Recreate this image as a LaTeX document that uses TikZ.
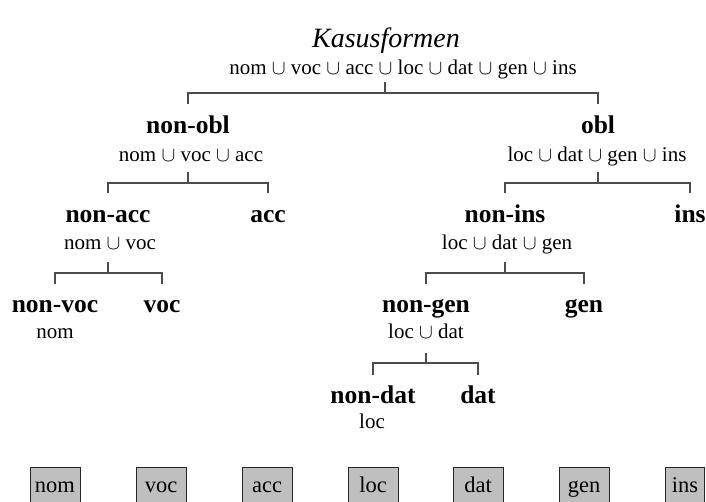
\documentclass[tikz,border=0pt]{standalone}
\usepackage{fontspec}
\setmainfont{Liberation Serif}
\usetikzlibrary{calc}
\begin{document}
\begin{tikzpicture}[x=1bp,y=-1bp,
  tree/.style={draw=black!70, line width=1.1bp},
  heading/.style={font=\fontsize{28bp}{33bp}\selectfont\itshape, inner sep=0pt, text height=20bp, text depth=0pt},
  cat/.style={font=\fontsize{25.5bp}{30bp}\selectfont\bfseries, inner sep=0pt, text height=17bp, text depth=0pt, outer ysep=12bp},
  forms/.style={font=\fontsize{21bp}{25bp}\selectfont, inner sep=0pt, text height=14bp, text depth=0pt},
  casebox/.style={draw=black!85, line width=0.9bp, fill=black!25, font=\fontsize{22.5bp}{27bp}\selectfont, inner xsep=5bp, minimum width=50bp, minimum height=36bp, text height=15bp, text depth=0pt}]
\useasboundingbox (0,0) rectangle (706,502);

% title and root
\node[heading] (title) at (386,38) {Kasusformen};
\node[forms] (u0) at (403,68) {nom $\cup$ voc $\cup$ acc $\cup$ loc $\cup$ dat $\cup$ gen $\cup$ ins};

% junction points
\coordinate (j0) at (385,93);
\coordinate (j1l) at (188,183);
\coordinate (j1r) at (598,183);
\coordinate (j2l) at (108,273);
\coordinate (j2r) at (505,273);
\coordinate (j3) at (426,363);

% level 1
\node[cat] (nonobl) at (188,125) {non-obl};
\node[cat] (obl) at (598,125) {obl};
\node[forms] (u1l) at (191,155) {nom $\cup$ voc $\cup$ acc};
\node[forms] (u1r) at (597,155) {loc $\cup$ dat $\cup$ gen $\cup$ ins};

% level 2
\node[cat] (nonacc) at (108,214) {non-acc};
\node[cat] (acc) at (268,214) {acc};
\node[cat] (nonins) at (505,214) {non-ins};
\node[cat] (ins) at (690,214) {ins};
\node[forms] (u2l) at (110,243) {nom $\cup$ voc};
\node[forms] (u2r) at (507,243) {loc $\cup$ dat $\cup$ gen};

% level 3
\node[cat] (nonvoc) at (55,304) {non-voc};
\node[cat] (voc) at (162,304) {voc};
\node[cat] (nongen) at (426,304) {non-gen};
\node[cat] (gen) at (584,304) {gen};
\node[forms] (u3l) at (55,331) {nom};
\node[forms] (u3r) at (426,331) {loc $\cup$ dat};

% level 4
\node[cat] (nondat) at (373,395) {non-dat};
\node[cat] (dat) at (478,395) {dat};
\node[forms] (u4) at (372,421) {loc};

% connectors
\draw[tree] (j0) -- ++(0,-10.5);
\draw[tree] (nonobl.north) |- (j0) -| (obl.north);
\draw[tree] (j1l) -- ++(0,-11);
\draw[tree] (nonacc.north) |- (j1l) -| (acc.north);
\draw[tree] (j1r) -- ++(0,-11);
\draw[tree] (nonins.north) |- (j1r) -| (ins.north);
\draw[tree] (j2l) -- ++(0,-11);
\draw[tree] (nonvoc.north) |- (j2l) -| (voc.north);
\draw[tree] (j2r) -- ++(0,-11);
\draw[tree] (nongen.north) |- (j2r) -| (gen.north);
\draw[tree] (j3) -- ++(0,-10.5);
\draw[tree] (nondat.north) |- (j3) -| (dat.north);

% case boxes
\node[casebox] (bnom) at (55,485) {nom};
\node[casebox] (bvoc) at (161,485) {voc};
\node[casebox] (bacc) at (267,485) {acc};
\node[casebox] (bloc) at (373,485) {loc};
\node[casebox] (bdat) at (478,485) {dat};
\node[casebox] (bgen) at (584,485) {gen};
\node[casebox, minimum width=39bp] (bins) at (685,485) {ins};
\end{tikzpicture}
\end{document}
